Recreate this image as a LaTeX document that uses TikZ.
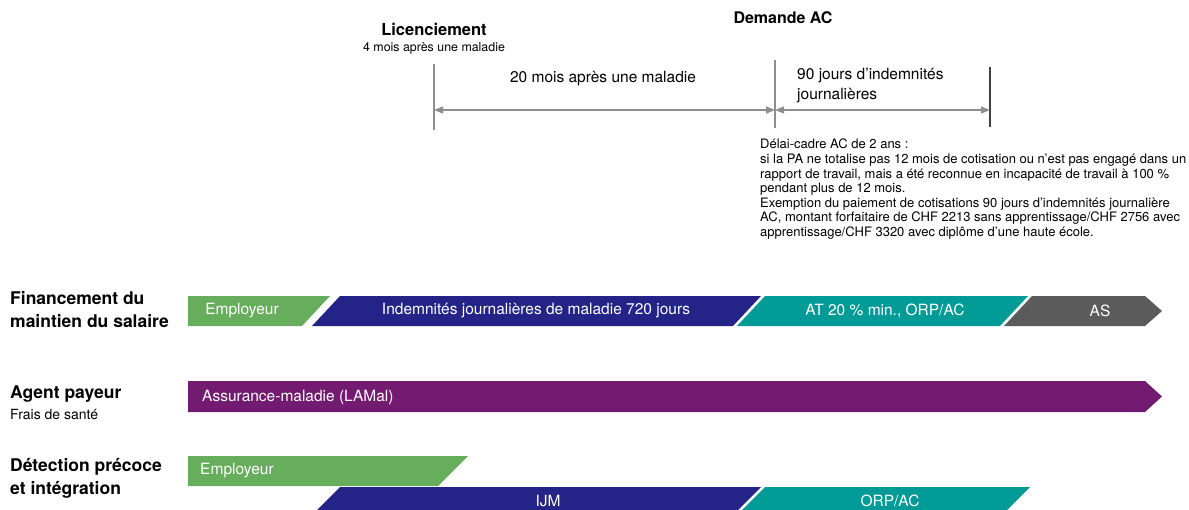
\documentclass[tikz,border=0pt]{standalone}
\usepackage{fontspec}
\setmainfont{TeX Gyre Heros}
\usetikzlibrary{arrows.meta}
\definecolor{cgreen}{HTML}{66AE5B}
\definecolor{cnavy}{HTML}{232388}
\definecolor{cteal}{HTML}{009A97}
\definecolor{cgrey}{HTML}{5B5B5B}
\definecolor{cpurple}{HTML}{731B70}
\definecolor{cline}{HTML}{8E8E8E}
\begin{document}
\begin{tikzpicture}[x=1pt,y=-1pt,
  bartext/.style={text=white,font=\fontsize{15.5}{18}\selectfont,inner sep=0pt},
  rowhead/.style={anchor=west,font=\fontsize{17.5}{23}\selectfont\bfseries,align=left,inner sep=0pt},
  marker/.style={draw=cline,line width=1.1pt},
  span/.style={draw=cline,line width=1.4pt,{Triangle[length=9pt,width=7pt]}-{Triangle[length=9pt,width=7pt]}},
  note/.style={font=\fontsize{13}{14.55}\selectfont,align=left,inner sep=0pt}]
\useasboundingbox (0,0) rectangle (1189,509);
\clip (0,0) rectangle (1189,509);

% ---- time markers ----
\node[font=\fontsize{16.5}{19}\selectfont\bfseries] (lic) at (434,29) {Licenciement};
\node[font=\fontsize{12.4}{14}\selectfont] (licsub) at (434,48) {4 mois après une maladie};
\node[font=\fontsize{16}{19}\selectfont\bfseries] (dem) at (783,18) {Demande AC};

\coordinate (l1t) at (434,64);  \coordinate (l1b) at (434,130);
\coordinate (l2t) at (775,60);  \coordinate (l2b) at (775,128);
\coordinate (l3t) at (990,67);  \coordinate (l3b) at (990,127);
\draw[marker] (l1t) -- (l1b);
\draw[marker] (l2t) -- (l2b);
\draw[draw=black!75,line width=1.6pt] (l3t) -- (l3b);

\coordinate (a1) at (434,110); \coordinate (a2) at (775,110); \coordinate (a3) at (990,110);
\draw[span] (a1) -- (a2);
\draw[span] (a2) -- (a3);
\node[font=\fontsize{15.5}{18}\selectfont] (d20) at (603,79) {20 mois après une maladie};
\node[font=\fontsize{15.5}{20}\selectfont,align=left,anchor=north west,inner sep=0pt] (d90) at (797,68)
  {90 jours d’indemnités\\journalières};

\node[note,anchor=north west] (cadre) at (760,139) {Délai-cadre AC de 2 ans :\\
si la PA ne totalise pas 12 mois de cotisation ou n’est pas engagé dans un\\
rapport de travail, mais a été reconnue en incapacité de travail à 100 \%\\
pendant plus de 12 mois.\\
Exemption du paiement de cotisations 90 jours d’indemnités journalière\\
AC, montant forfaitaire de CHF 2213 sans apprentissage/CHF 2756 avec\\
apprentissage/CHF 3320 avec diplôme d’une haute école.};

% ---- row headings ----
\node[rowhead] (h1) at (10,310) {Financement du\\maintien du salaire};
\node[rowhead,font=\fontsize{17.5}{21}\selectfont] (h2) at (10,403)
  {\bfseries Agent payeur\\\fontsize{14}{17}\selectfont Frais de santé};
\node[rowhead] (h3) at (10,478) {Détection précoce\\et intégration};

% ---- row 1: wage continuation ----
\fill[cgreen] (188,296) -- (330,296) -- (302,326) -- (188,326) -- cycle;
\fill[cnavy]  (340,296) -- (761,296) -- (733,326) -- (312,326) -- cycle;
\fill[cteal]  (765,296) -- (1028,296) -- (1000,326) -- (737,326) -- cycle;
\fill[cgrey]  (1032,296) -- (1145,296) -- (1162,311) -- (1145,326) -- (1004,326) -- cycle;
\node[bartext] (r1a) at (242,311) {Employeur};
\node[bartext] (r1b) at (536,311) {Indemnités journalières de maladie 720 jours};
\node[bartext] (r1c) at (885,311) {AT 20 \% min., ORP/AC};
\node[bartext] (r1d) at (1100,311) {AS};

% ---- row 2: health costs ----
\fill[cpurple] (188,381) -- (1145,381) -- (1162,396.5) -- (1145,412) -- (188,412) -- cycle;
\node[bartext,anchor=west] (r2a) at (202,397) {Assurance-maladie (LAMal)};

% ---- row 3: early detection ----
\fill[cgreen] (188,456) -- (468,456) -- (438,486) -- (188,486) -- cycle;
\fill[cnavy]  (340,487) -- (761,487) -- (731,517) -- (310,517) -- cycle;
\fill[cteal]  (765,487) -- (1030,487) -- (1000,517) -- (735,517) -- cycle;
\node[bartext,anchor=west] (r3a) at (200,471) {Employeur};
\node[bartext] (r3b) at (548,501) {IJM};
\node[bartext] (r3c) at (890,501) {ORP/AC};
\end{tikzpicture}
\end{document}
